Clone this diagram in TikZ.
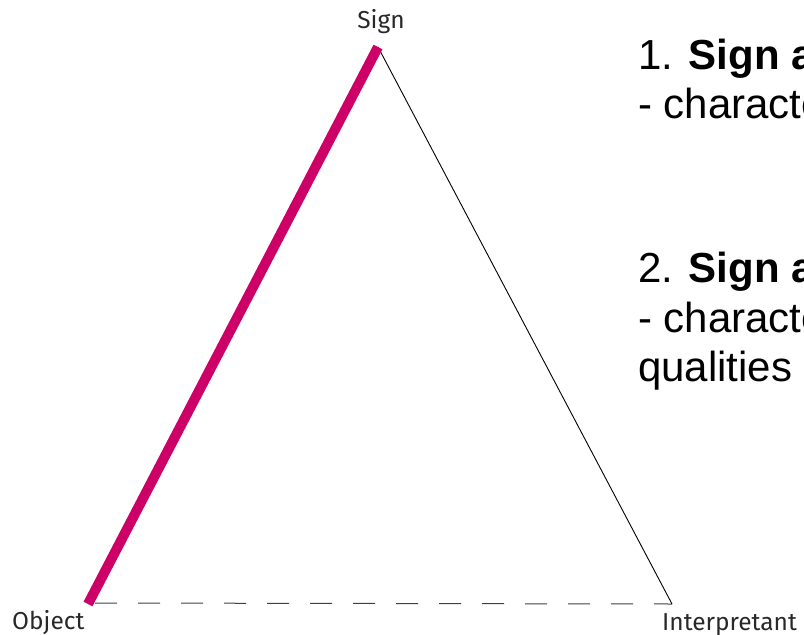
\documentclass[tikz,border=0pt]{standalone}
\usepackage{fontspec}
\setmainfont{Liberation Sans}
\newfontfamily\labelfont{Fira Sans}
\definecolor{signpink}{RGB}{204,0,102}
\definecolor{labelgray}{RGB}{40,40,40}
\begin{document}
\begin{tikzpicture}[x=1pt,y=-1pt,
  vlabel/.style={inner sep=0pt,font=\labelfont\fontsize{24.5}{28}\selectfont,text=labelgray},
  bodytext/.style={inner sep=0pt,anchor=base west,font=\fontsize{42}{48}\selectfont},
  pinkedge/.style={draw=signpink,line width=10pt},
  thinedge/.style={draw=black,line width=0.9pt},
  dashedge/.style={draw=black!75,line width=1pt,dash pattern=on 22pt off 21pt}]
\useasboundingbox (0,0) rectangle (804,635);
\clip (0,0) rectangle (804,635);
% vertices
\coordinate (S) at (378,47);
\coordinate (O) at (88,604);
\coordinate (I) at (672,604);
% edges
\draw[dashedge] (95,603) coordinate (Od) -- (I);
\draw[thinedge] (S) -- (I);
\draw[pinkedge] (O) -- (S);
% vertex labels
\node[vlabel,anchor=base] (signlbl) at (381,28) {Sign};
\node[vlabel,anchor=base west] (objlbl) at (12,629) {Object};
\node[vlabel,anchor=base west] (intlbl) at (662,630) {Interpretant};
% right text
\node[bodytext] (a1) at (638,69) {1. \textbf{Sign a}};
\node[bodytext] (a2) at (638,118) {- characte};
\node[bodytext] (b1) at (638,282) {2. \textbf{Sign a}};
\node[bodytext] (b2) at (638,332) {- characte};
\node[bodytext] (b3) at (638,381) {qualities};
\end{tikzpicture}
\end{document}
